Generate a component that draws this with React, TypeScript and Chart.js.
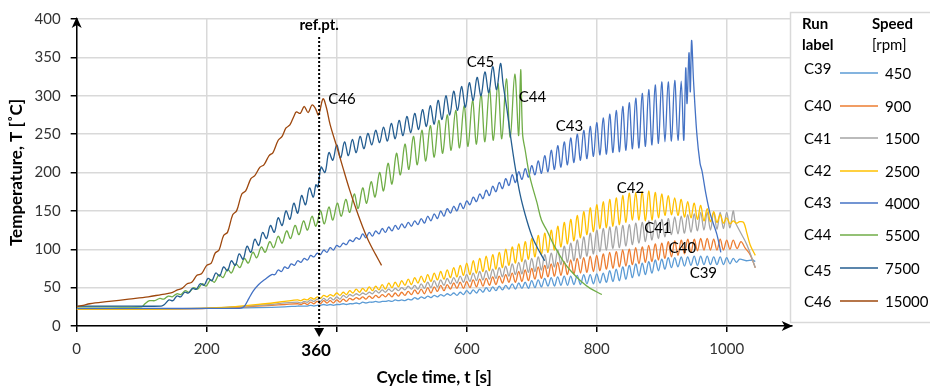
import React, { useEffect, useRef } from 'react';
import { Chart, registerables } from 'chart.js';

Chart.register(...registerables);

// ---------- DATA ----------
const runLabels = ['C39', 'C40', 'C41', 'C42', 'C43', 'C44', 'C45', 'C46'];
const speeds = ['450', '900', '1500', '2500', '4000', '5500', '7500', '15000'];
const colors = ['#5B9BD5', '#ED7D31', '#A5A5A5', '#FFC000', '#4472C4', '#70AD47', '#255E91', '#9E480E'];

const xTicks = [0, 200, 400, 600, 800, 1000];
const hiddenXTick = 400;
const refX = 373;
const refLabel = '360';

// shared sampling times for runs C39–C42 (oscillating part)
const gridTime = [
  340, 345, 350, 355, 360, 365, 370, 375, 380, 385,
  390, 395, 400, 405, 410, 415, 420, 425, 430, 435,
  440, 445, 450, 455, 460, 465, 470, 475, 480, 485,
  490, 495, 500, 505, 510, 515, 520, 525, 530, 535,
  540, 545, 550, 555, 560, 565, 570, 575, 580, 585,
  590, 595, 600, 605, 610, 615, 620, 625, 630, 635,
  640, 645, 650, 655, 660, 665, 670, 675, 680, 685,
  690, 695, 700, 705, 710, 715, 720, 725, 730, 735,
  740, 745, 750, 755, 760, 765, 770, 775, 780, 785,
  790, 795, 800, 805, 810, 815, 820, 825, 830, 835,
  840, 845, 850, 855, 860, 865, 870, 875, 880, 885,
  890, 895, 900, 905, 910, 915, 920, 925, 930, 935,
  940, 945, 950, 955, 960, 965, 970, 975, 980, 985,
  990, 995, 1000, 1005, 1010,
];

const c39Start: [number, number][] = [[0, 22], [100, 22], [200, 23], [280, 24], [320, 25]];
const c39Grid = [
  26, 26, 26, 26, 27, 26, 27, 27, 28, 27,
  28, 27, 28, 28, 29, 28, 29, 29, 30, 29,
  31, 30, 31, 31, 32, 31, 32, 32, 33, 32,
  34, 33, 34, 33, 35, 34, 37, 35, 38, 36,
  39, 37, 40, 38, 41, 39, 42, 40, 43, 40,
  44, 41, 46, 42, 47, 43, 48, 44, 50, 45,
  51, 46, 52, 47, 53, 48, 55, 48, 56, 49,
  57, 49, 59, 50, 60, 51, 62, 52, 63, 52,
  64, 53, 65, 53, 65, 54, 66, 54, 67, 55,
  67, 55, 68, 56, 69, 57, 72, 58, 74, 59,
  77, 61, 79, 63, 81, 65, 82, 67, 84, 69,
  86, 72, 87, 74, 89, 76, 89, 77, 90, 78,
  90, 79, 91, 79, 91, 80, 91, 80, 90, 80,
  90, 80, 89, 81, 88,
];
const c39End: [number, number][] = [[1015, 83], [1020, 87], [1030, 85], [1040, 86], [1044, 84]];

const c40Start: [number, number][] = [[0, 22], [100, 22], [200, 23], [260, 25], [300, 27], [320, 28]];
const c40Grid = [
  29, 28, 30, 28, 31, 29, 32, 29, 33, 30,
  33, 30, 34, 31, 35, 32, 36, 34, 37, 35,
  38, 35, 39, 36, 40, 37, 41, 38, 42, 38,
  43, 39, 44, 40, 45, 41, 47, 42, 48, 42,
  50, 43, 51, 45, 53, 46, 54, 48, 56, 49,
  57, 49, 58, 50, 60, 51, 61, 52, 62, 53,
  64, 54, 65, 56, 67, 57, 69, 57, 71, 58,
  73, 59, 75, 61, 77, 62, 79, 64, 81, 65,
  83, 66, 84, 67, 86, 68, 88, 69, 89, 70,
  91, 71, 92, 72, 94, 74, 96, 75, 97, 77,
  99, 78, 100, 80, 102, 81, 103, 83, 105, 84,
  107, 86, 108, 88, 110, 90, 111, 92, 112, 94,
  113, 96, 113, 98, 114, 99, 114, 99, 113, 99,
  113, 99, 112, 100, 112,
];
const c40End: [number, number][] = [[1016, 101], [1022, 110], [1028, 102], [1036, 93], [1044, 76]];

const c41Start: [number, number][] = [[0, 22], [100, 22], [200, 23], [260, 26], [300, 28], [320, 30]];
const c41Grid = [
  31, 30, 32, 31, 34, 32, 35, 32, 36, 33,
  37, 34, 38, 35, 40, 37, 41, 39, 42, 40,
  43, 41, 44, 42, 46, 43, 47, 44, 48, 45,
  49, 46, 50, 47, 52, 48, 53, 48, 55, 49,
  57, 50, 59, 51, 60, 53, 62, 55, 63, 56,
  65, 57, 67, 58, 69, 59, 71, 60, 72, 61,
  74, 62, 76, 64, 78, 65, 81, 67, 83, 68,
  86, 70, 88, 71, 90, 73, 93, 75, 95, 77,
  99, 80, 104, 83, 108, 85, 112, 88, 116, 91,
  121, 94, 125, 97, 127, 99, 129, 101, 130, 102,
  131, 104, 132, 106, 134, 108, 135, 110, 137, 112,
  138, 114, 139, 116, 140, 119, 142, 120, 143, 121,
  145, 122, 146, 124, 148, 125, 148, 125, 148, 126,
  148, 127, 148, 128, 150,
];
const c41End: [number, number][] = [[1013, 136], [1018, 127], [1031, 106], [1044, 76]];

const c42Start: [number, number][] = [[0, 22], [100, 22], [180, 23], [240, 25], [290, 29], [320, 32]];
const c42Grid = [
  34, 33, 35, 34, 37, 35, 38, 36, 40, 38,
  41, 39, 43, 40, 44, 41, 46, 43, 48, 44,
  49, 45, 51, 46, 52, 47, 54, 48, 56, 50,
  57, 51, 59, 53, 61, 54, 63, 56, 65, 57,
  67, 58, 69, 60, 71, 61, 73, 63, 76, 64,
  79, 66, 82, 67, 85, 69, 88, 71, 91, 72,
  93, 74, 96, 76, 100, 79, 103, 82, 107, 84,
  110, 87, 114, 90, 118, 93, 121, 96, 125, 99,
  130, 103, 135, 107, 139, 111, 144, 115, 149, 119,
  154, 123, 158, 127, 162, 128, 165, 130, 167, 132,
  170, 135, 173, 138, 174, 138, 175, 137, 176, 138,
  174, 141, 172, 144, 170, 145, 167, 144, 165, 142,
  162, 141, 160, 139, 157, 137, 153, 136, 149, 135,
  145, 134, 141, 133, 137,
];
const c42End: [number, number][] = [[1015, 134], [1020, 136], [1026, 135], [1031, 121], [1036, 106], [1044, 92]];

const c43: [number, number][] = [
  [0, 23], [100, 23], [200, 23], [250, 23], [255, 24], [259, 27], [265, 36], [272, 46], [280, 54], [290, 61], [300, 67],
  [305, 67], [310, 73], [315, 71], [320, 77], [325, 75], [330, 81], [335, 79], [340, 85], [345, 83], [350, 88],
  [355, 86], [360, 92], [365, 90], [370, 95], [375, 93], [380, 99], [385, 96], [390, 102], [395, 99], [400, 105],
  [405, 103], [410, 108], [415, 106], [420, 112], [425, 110], [430, 115], [435, 113], [440, 120], [445, 115], [450, 122],
  [455, 117], [460, 124], [465, 120], [470, 127], [475, 122], [480, 129], [485, 124], [490, 131], [495, 126], [500, 133],
  [505, 128], [510, 135], [515, 130], [520, 137], [525, 132], [530, 140], [535, 134], [540, 143], [545, 137], [550, 146],
  [555, 140], [560, 150], [565, 143], [570, 153], [575, 147], [580, 156], [585, 150], [590, 160], [595, 153], [600, 163],
  [605, 158], [610, 168], [615, 162], [620, 172], [625, 166], [630, 177], [635, 170], [640, 182], [645, 175], [650, 187],
  [655, 179], [660, 192], [665, 183], [670, 197], [675, 187], [680, 201], [685, 191], [690, 205], [695, 194], [700, 209],
  [705, 197], [710, 215], [715, 199], [720, 222], [725, 201], [730, 229], [735, 204], [740, 235], [745, 207], [750, 240],
  [755, 210], [760, 245], [765, 213], [770, 250], [775, 216], [780, 255], [785, 218], [790, 260], [795, 221], [800, 265],
  [805, 223], [810, 271], [815, 224], [820, 276], [825, 226], [830, 281], [835, 227], [840, 286], [845, 229], [850, 291],
  [855, 231], [860, 297], [865, 232], [870, 303], [875, 234], [880, 308], [885, 236], [890, 314], [895, 238], [900, 318],
  [905, 240], [910, 318], [915, 241], [920, 320], [925, 242], [930, 319], [934, 242], [937, 336], [939, 290], [942, 356],
  [944, 305], [946, 372], [949, 319], [954, 251], [959, 212], [962, 202], [968, 172], [974, 148], [980, 132], [985, 119],
  [991, 96],
];

const c44: [number, number][] = [
  [0, 25], [50, 25], [100, 25], [105, 29], [112, 33], [120, 33], [128, 36], [134, 35], [141, 39], [147, 38],
  [154, 42], [160, 41], [167, 46], [173, 44], [180, 50], [186, 48], [193, 55], [199, 52], [206, 60], [212, 57],
  [219, 67], [225, 63], [232, 74], [238, 69], [245, 81], [251, 76], [258, 88], [264, 82], [271, 96], [277, 89],
  [284, 103], [290, 96], [297, 110], [303, 102], [310, 117], [316, 108], [323, 124], [329, 114], [336, 131], [342, 119],
  [349, 137], [355, 125], [362, 143], [368, 130], [375, 150], [381, 133], [388, 155], [394, 138], [401, 160], [407, 143],
  [414, 165], [420, 148], [427, 172], [433, 153], [440, 180], [446, 160], [453, 188], [459, 168], [466, 200], [472, 176],
  [479, 212], [485, 185], [492, 225], [498, 197], [505, 237], [511, 204], [518, 247], [524, 210], [531, 255], [537, 215],
  [544, 261], [550, 220], [557, 268], [563, 225], [570, 275], [576, 229], [583, 281], [589, 232], [596, 287], [602, 234],
  [609, 294], [615, 237], [622, 302], [628, 240], [635, 309], [641, 242], [648, 316], [654, 244], [661, 322], [667, 246],
  [674, 328], [680, 248], [683, 334], [686, 250], [690, 229], [697, 195], [708, 161], [715, 138], [723, 125], [735, 104],
  [749, 84], [760, 72], [775, 59], [790, 49], [808, 41],
];

const c45: [number, number][] = [
  [0, 26], [60, 26], [130, 26], [135, 28], [142, 34], [148, 33], [154, 39], [160, 38], [166, 44], [172, 43],
  [178, 49], [184, 48], [190, 55], [196, 53], [202, 62], [208, 59], [214, 69], [220, 65], [226, 77], [232, 72],
  [238, 85], [244, 79], [250, 94], [256, 87], [262, 104], [268, 96], [274, 113], [280, 105], [286, 122], [292, 114],
  [298, 131], [304, 122], [310, 141], [316, 131], [322, 150], [328, 139], [334, 160], [340, 147], [346, 170], [352, 158],
  [358, 180], [364, 168], [368, 184], [371, 181], [376, 207], [382, 200], [388, 226], [394, 216], [400, 236], [406, 219],
  [412, 240], [418, 222], [424, 243], [430, 226], [436, 247], [442, 231], [448, 251], [454, 236], [460, 255], [466, 239],
  [472, 259], [478, 241], [484, 264], [490, 244], [496, 268], [502, 248], [508, 273], [514, 252], [520, 277], [526, 256],
  [532, 282], [538, 260], [544, 287], [550, 263], [556, 294], [562, 269], [568, 300], [574, 275], [580, 306], [586, 281],
  [592, 312], [598, 285], [604, 317], [610, 294], [616, 324], [622, 300], [628, 331], [634, 304], [640, 338], [646, 308],
  [652, 342], [656, 315], [662, 282], [667, 250], [674, 210], [682, 172], [690, 145], [700, 118], [710, 100], [720, 85],
];

const c46: [number, number][] = [
  [0, 25.5], [10, 27], [20, 29], [50, 32], [80, 35], [110, 38], [130, 41], [145, 43], [155, 47], [162, 49],
  [170, 55], [177, 57], [185, 66], [192, 68], [200, 79], [207, 82], [213, 95], [219, 99], [226, 118], [232, 122],
  [240, 145], [246, 150], [254, 172], [260, 176], [268, 192], [274, 196], [282, 207], [288, 210], [296, 222], [302, 226],
  [310, 242], [316, 247], [322, 258], [328, 262], [334, 273], [338, 279], [344, 277], [350, 286], [356, 278], [362, 288],
  [367, 284], [372, 275], [379, 296], [384, 285], [390, 262], [400, 234], [410, 205], [420, 177], [430, 152], [440, 129],
  [450, 109], [460, 93], [469, 79],
];

// in-plot run labels (data coordinates)
const seriesLabelPos: [string, number, number][] = [
  ['C46', 387, 295], ['C45', 600, 344], ['C44', 680, 298], ['C43', 737, 260],
  ['C42', 831, 179], ['C41', 873, 128], ['C40', 911, 101], ['C39', 943, 69],
];

// ---------- helpers ----------
const FONT = 'Lato, "Open Sans", sans-serif';
type P = [number, number];
const toPts = (pairs: P[]) => pairs.map(([x, y]) => ({ x, y }));
const gridPts = (vals: number[]) => vals.map((v, i) => ({ x: gridTime[i], y: v }));

const seriesData = [
  [...toPts(c39Start), ...gridPts(c39Grid), ...toPts(c39End)],
  [...toPts(c40Start), ...gridPts(c40Grid), ...toPts(c40End)],
  [...toPts(c41Start), ...gridPts(c41Grid), ...toPts(c41End)],
  [...toPts(c42Start), ...gridPts(c42Grid), ...toPts(c42End)],
  toPts(c43),
  toPts(c44),
  toPts(c45),
  toPts(c46),
];

function arrowHead(ctx: CanvasRenderingContext2D, tx: number, ty: number, dir: 'up' | 'right') {
  ctx.beginPath();
  if (dir === 'up') {
    ctx.moveTo(tx, ty);
    ctx.lineTo(tx - 5, ty + 11);
    ctx.lineTo(tx, ty + 8);
    ctx.lineTo(tx + 5, ty + 11);
  } else {
    ctx.moveTo(tx, ty);
    ctx.lineTo(tx - 11, ty - 5);
    ctx.lineTo(tx - 8, ty);
    ctx.lineTo(tx - 11, ty + 5);
  }
  ctx.closePath();
  ctx.fill();
}

const overlayPlugin = {
  id: 'overlay',
  afterDraw(chart: any) {
    const { ctx, chartArea, scales } = chart;
    const xs = scales.x;
    const ys = scales.y;
    const x0 = xs.getPixelForValue(0);
    const y0 = ys.getPixelForValue(0);
    ctx.save();
    ctx.fillStyle = '#000';
    // axis arrows
    arrowHead(ctx, x0, chartArea.top - 2, 'up');
    arrowHead(ctx, chartArea.right + 1, y0, 'right');

    // reference line
    const rx = xs.getPixelForValue(refX);
    ctx.strokeStyle = '#000';
    ctx.lineWidth = 2;
    ctx.setLineDash([2, 2]);
    ctx.beginPath();
    ctx.moveTo(rx, 37);
    ctx.lineTo(rx, y0 + 2);
    ctx.stroke();
    ctx.setLineDash([]);
    ctx.beginPath();
    ctx.moveTo(rx - 5, y0 + 2);
    ctx.lineTo(rx + 5, y0 + 2);
    ctx.lineTo(rx, y0 + 11);
    ctx.closePath();
    ctx.fill();

    ctx.textAlign = 'center';
    ctx.textBaseline = 'middle';
    ctx.font = `bold 15px ${FONT}`;
    ctx.fillText('ref.pt.', rx, 25);
    ctx.font = `bold 17px ${FONT}`;
    ctx.fillText(refLabel, rx - 3, 351);

    // axis titles
    ctx.font = `bold 17px ${FONT}`;
    ctx.fillText('Cycle time, t [s]', (chartArea.left + chartArea.right) / 2, 378);
    ctx.save();
    ctx.translate(17, (chartArea.top + chartArea.bottom) / 2);
    ctx.rotate(-Math.PI / 2);
    ctx.fillText('Temperature, T [˚C]', 0, 0);
    ctx.restore();

    // series labels
    ctx.font = `15px ${FONT}`;
    ctx.textAlign = 'left';
    seriesLabelPos.forEach(([t, vx, vy]) => {
      ctx.fillText(t, xs.getPixelForValue(vx), ys.getPixelForValue(vy));
    });

    // legend box
    ctx.fillStyle = '#fff';
    ctx.fillRect(790.5, 12.5, 150, 310);
    ctx.strokeStyle = '#d9d9d9';
    ctx.lineWidth = 1.5;
    ctx.strokeRect(790.5, 12.5, 150, 310);
    ctx.fillStyle = '#000';
    ctx.textAlign = 'left';
    ctx.font = `bold 15px ${FONT}`;
    ctx.fillText('Run', 802, 24);
    ctx.fillText('label', 802, 45);
    ctx.fillText('Speed', 872, 24);
    ctx.font = `15px ${FONT}`;
    ctx.fillText('[rpm]', 872, 45);
    const labelY = [69, 106, 139, 171, 203, 235, 271, 302];
    const lineY = [73, 106, 138, 171, 203, 235, 268, 301];
    runLabels.forEach((r, i) => {
      ctx.fillStyle = '#000';
      ctx.fillText(r, 804, labelY[i]);
      ctx.fillText(speeds[i], 885, lineY[i] + 1);
      ctx.strokeStyle = colors[i];
      ctx.lineWidth = 1.5;
      ctx.beginPath();
      ctx.moveTo(840, lineY[i]);
      ctx.lineTo(878, lineY[i]);
      ctx.stroke();
    });
    ctx.restore();
  },
};

export default function App() {
  const ref = useRef<HTMLCanvasElement>(null);
  useEffect(() => {
    document.body.style.margin = '0';
    const chart = new Chart(ref.current as HTMLCanvasElement, {
      type: 'line',
      data: {
        datasets: seriesData.map((d, i) => ({
          label: runLabels[i],
          data: d,
          borderColor: colors[i],
          backgroundColor: colors[i],
          borderWidth: 1.3,
          pointRadius: 0,
          tension: 0.35,
          fill: false,
          order: 8 - i,
        })),
      },
      options: {
        animation: false,
        responsive: false,
        devicePixelRatio: 1,
        parsing: false as any,
        layout: { padding: { left: 0, right: 138.3, top: 13.3, bottom: 0 } },
        plugins: { legend: { display: false }, tooltip: { enabled: false }, title: { display: false } },
        scales: {
          x: {
            type: 'linear',
            min: 0,
            max: 1100,
            afterBuildTicks: (s: any) => {
              s.ticks = xTicks.map((v) => ({ value: v }));
            },
            afterFit: (s: any) => {
              s.height = 64;
            },
            ticks: {
              autoSkip: false,
              maxRotation: 0,
              padding: 8,
              color: '#333',
              font: { family: FONT, size: 15 },
              callback: (v: any) => (v === hiddenXTick ? '' : String(v)),
            },
            grid: { color: '#d9d9d9', lineWidth: 1.5, tickLength: 6, tickColor: '#000', tickWidth: 1.5 },
            border: { display: true, color: '#000', width: 1.5 },
          },
          y: {
            min: 0,
            max: 400,
            afterFit: (s: any) => {
              s.width = 76.7;
            },
            ticks: {
              stepSize: 50,
              padding: 10,
              color: '#333',
              font: { family: FONT, size: 15 },
            },
            grid: { color: '#d9d9d9', lineWidth: 1.5, tickLength: 6, tickColor: '#000', tickWidth: 1.5 },
            border: { display: true, color: '#000', width: 1.5 },
          },
        },
      },
      plugins: [overlayPlugin],
    } as any);
    return () => chart.destroy();
  }, []);
  return (
    <div style={{ position: 'absolute', left: 0, top: 0, width: 930, height: 390, background: '#fff' }}>
      <canvas ref={ref} width={930} height={390} style={{ display: 'block', width: 930, height: 390 }} />
    </div>
  );
}
